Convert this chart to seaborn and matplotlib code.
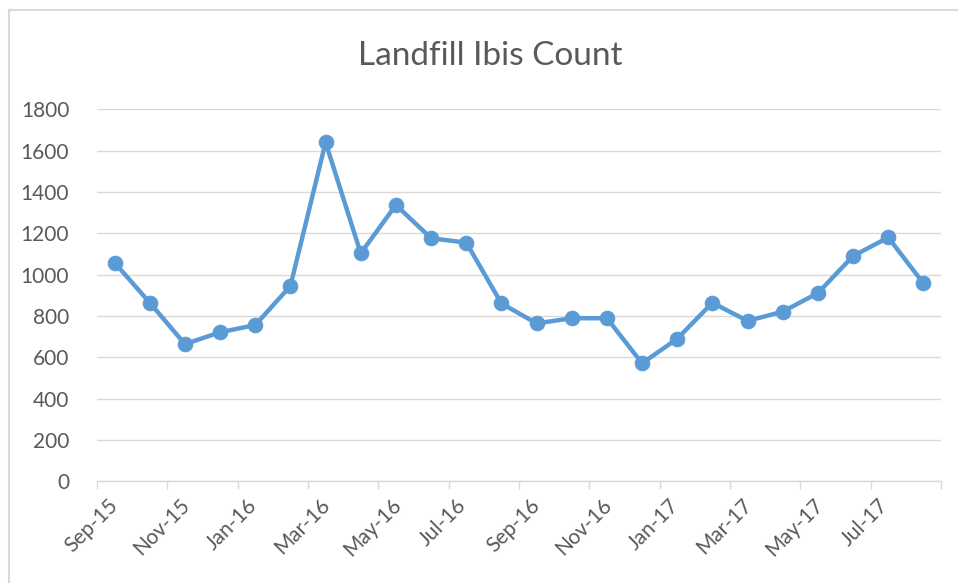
import matplotlib
matplotlib.use("Agg")
import matplotlib.pyplot as plt
import matplotlib.transforms as mtransforms
from matplotlib.patches import Rectangle
import seaborn as sns
import pandas as pd

months = ["Sep-15", "Oct-15", "Nov-15", "Dec-15", "Jan-16", "Feb-16", "Mar-16", "Apr-16",
          "May-16", "Jun-16", "Jul-16", "Aug-16", "Sep-16", "Oct-16", "Nov-16", "Dec-16",
          "Jan-17", "Feb-17", "Mar-17", "Apr-17", "May-17", "Jun-17", "Jul-17", "Aug-17"]
counts = [1058, 864, 664, 721, 756, 945, 1640, 1103, 1337, 1176, 1155, 861,
          764, 789, 789, 571, 690, 864, 776, 821, 911, 1090, 1180, 958]
y_ticks = [0, 200, 400, 600, 800, 1000, 1200, 1400, 1600, 1800]
title = "Landfill Ibis Count"

sns.set_theme(style="white")
plt.rcParams['font.family'] = ['Lato', 'DejaVu Sans']

df = pd.DataFrame({"idx": range(len(months)), "month": months, "count": counts})

W, H = 958, 583
fig = plt.figure(figsize=(W / 100, H / 100), dpi=100)
ax = fig.add_axes([97 / W, 1 - 481.3 / H, (941 - 97) / W, (481.3 - 109.3) / H])

blue = "#5B9BD5"
sns.lineplot(data=df, x="idx", y="count", ax=ax, color=blue, linewidth=3.2,
             marker="o", markersize=10.5, markeredgecolor=blue, markerfacecolor=blue,
             zorder=3)

ax.set_xlim(-0.5, len(months) - 0.5)
ax.set_ylim(0, 1800)
ax.set_yticks(y_ticks)
ax.set_yticklabels([str(v) for v in y_ticks])
ax.yaxis.grid(True, color="#D9D9D9", linewidth=1.0)
ax.set_axisbelow(True)

tick_pos = [i - 0.5 for i in range(0, len(months) + 1, 2)]
tick_labels = [months[i] if i < len(months) else "" for i in range(0, len(months) + 1, 2)]
ax.set_xticks(tick_pos)
ax.set_xticklabels(tick_labels, rotation=45, ha="center", va="top")
ax.set_xlabel("")
ax.set_ylabel("")

for s in ["top", "right", "left"]:
    ax.spines[s].set_visible(False)
ax.spines["bottom"].set_color("#D9D9D9")
ax.spines["bottom"].set_linewidth(1.0)

ax.tick_params(axis="x", which="both", bottom=True, length=6, width=1.0, color="#D9D9D9",
               labelsize=15, labelcolor="#595959", pad=4)
ax.tick_params(axis="y", left=False, labelsize=15, labelcolor="#595959", pad=14)

offset = mtransforms.ScaledTranslation(-6 / 100, 0, fig.dpi_scale_trans)
for lab in ax.get_xticklabels():
    lab.set_transform(lab.get_transform() + offset)

fig.text(490 / W, 1 - 56 / H, title, ha="center", va="center", fontsize=24, color="#595959")

fig.patches.append(Rectangle((9 / W, -0.1), 1.2, 1 - 10 / H + 0.1, transform=fig.transFigure,
                             fill=False, edgecolor="#D9D9D9", linewidth=1.5))

fig.savefig("out.png", dpi=100)
